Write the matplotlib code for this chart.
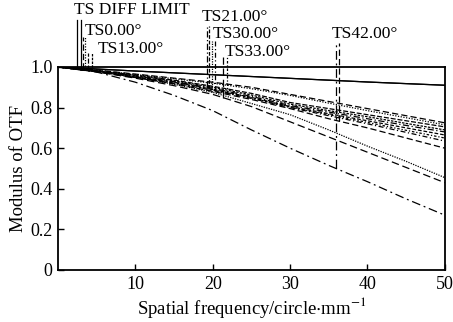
import numpy as np
import matplotlib
matplotlib.use("Agg")
import matplotlib.pyplot as plt

plt.rcParams['font.family'] = ['Liberation Serif', 'DejaVu Serif']
plt.rcParams['mathtext.fontset'] = 'stix'

# spatial frequency (circle/mm)
freq = [0, 5, 10, 15, 20, 25, 30, 35, 40, 45, 50]

# MTF values
diff_limit = [1.0, 0.99, 0.98, 0.971, 0.962, 0.953, 0.944, 0.935, 0.926, 0.918, 0.91]
t0 = [1.0, 0.985, 0.965, 0.945, 0.925, 0.90, 0.865, 0.83, 0.795, 0.76, 0.725]
s0 = [1.0, 0.984, 0.963, 0.942, 0.92, 0.893, 0.86, 0.822, 0.785, 0.75, 0.715]
t13 = [1.0, 0.982, 0.96, 0.935, 0.905, 0.87, 0.825, 0.795, 0.765, 0.735, 0.705]
s13 = [1.0, 0.98, 0.958, 0.932, 0.90, 0.862, 0.817, 0.785, 0.755, 0.722, 0.69]
t21 = [1.0, 0.98, 0.955, 0.928, 0.895, 0.855, 0.81, 0.778, 0.745, 0.712, 0.68]
s21 = [1.0, 0.978, 0.952, 0.925, 0.89, 0.85, 0.805, 0.77, 0.735, 0.70, 0.665]
t30 = [1.0, 0.978, 0.95, 0.915, 0.875, 0.82, 0.765, 0.69, 0.61, 0.535, 0.455]
s30 = [1.0, 0.978, 0.95, 0.92, 0.885, 0.845, 0.80, 0.76, 0.72, 0.678, 0.635]
t33 = [1.0, 0.976, 0.945, 0.908, 0.865, 0.805, 0.73, 0.655, 0.58, 0.505, 0.43]
s33 = [1.0, 0.977, 0.95, 0.922, 0.888, 0.848, 0.803, 0.765, 0.727, 0.688, 0.65]
t42 = [1.0, 0.975, 0.925, 0.86, 0.785, 0.69, 0.60, 0.515, 0.435, 0.35, 0.27]
s42 = [1.0, 0.977, 0.948, 0.917, 0.88, 0.84, 0.795, 0.745, 0.70, 0.65, 0.60]

labels = ['TS DIFF LIMIT', 'TS0.00°', 'TS13.00°', 'TS21.00°', 'TS30.00°', 'TS33.00°', 'TS42.00°']
curves = [(diff_limit, diff_limit), (t0, s0), (t13, s13), (t21, s21),
          (t30, s30), (t33, s33), (t42, s42)]

# line styles for T and S of each label
styles = [('-', '-'),
          ((0, (5, 2.5)), (0, (1, 1.2))),
          ((0, (4, 1.5)), (0, (2, 1))),
          ((0, (5, 2, 1, 2)), (0, (3, 1.5))),
          ((0, (1, 1)), (0, (4, 2, 1, 2))),
          ((0, (6, 3)), (0, (2, 1.5, 1, 1.5))),
          ((0, (7, 3, 1.5, 3)), (0, (5, 2.5)))]

# label placement: text x, text y, marker x positions, marker top
label_x = [2.1, 3.5, 5.1, 18.6, 20.0, 21.5, 35.4]
label_y = [1.28, 1.178, 1.09, 1.248, 1.162, 1.074, 1.162]
mark_x = [(2.45, 2.95), (3.2, 3.5), (3.9, 4.4), (19.2, 19.5), (19.9, 20.3), (21.3, 21.8), (35.9, 36.3)]
mark_top = [1.23, 1.15, 1.07, 1.2, 1.13, 1.05, 1.12]

fig = plt.figure(figsize=(4.53, 3.22), dpi=100)
ax = fig.add_axes([0.128, 0.1615, 0.854, 0.6305])

for (tc, sc), (ts, ss) in zip(curves, styles):
    ax.plot(freq, tc, color='black', lw=0.9, linestyle=ts)
    ax.plot(freq, sc, color='black', lw=0.9, linestyle=ss)

for lab, lx, ly, (mx1, mx2), top, (tc, sc), (ts, ss) in zip(
        labels, label_x, label_y, mark_x, mark_top, curves, styles):
    ax.plot([mx1, mx1], [np.interp(mx1, freq, tc), top], color='black', lw=0.9,
            linestyle=ts, clip_on=False)
    ax.plot([mx2, mx2], [np.interp(mx2, freq, sc), top], color='black', lw=0.9,
            linestyle=ss, clip_on=False)
    ax.text(lx, ly, lab, fontsize=12.5, ha='left', va='center', clip_on=False)

ax.set_xlim(0, 50)
ax.set_ylim(0, 1)
ax.set_xticks([10, 20, 30, 40, 50])
ax.set_yticks([0, 0.2, 0.4, 0.6, 0.8, 1.0])
ax.set_yticklabels(['0', '0.2', '0.4', '0.6', '0.8', '1.0'])
ax.tick_params(direction='in', length=4, width=1, labelsize=13, pad=4)
for sp in ax.spines.values():
    sp.set_linewidth(1.3)

ax.set_xlabel('Spatial frequency/circle$\\cdot$mm$^{-1}$', fontsize=13.5, labelpad=2)
ax.set_ylabel('Modulus of OTF', fontsize=13.5, labelpad=2)

fig.savefig('out.png', dpi=100)
